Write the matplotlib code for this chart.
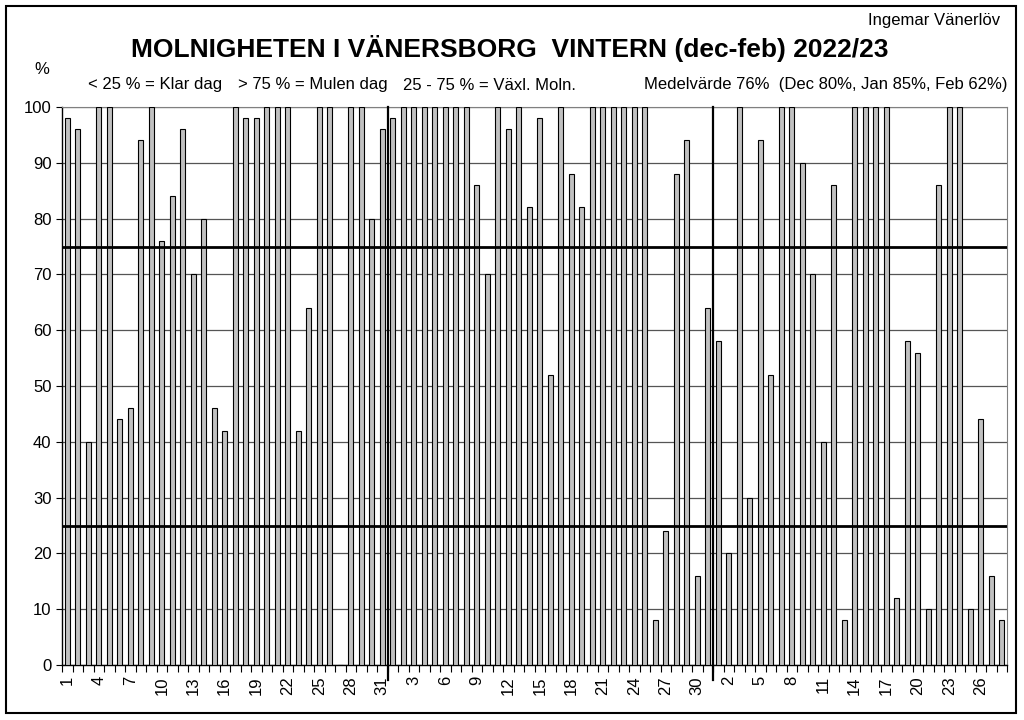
import matplotlib
matplotlib.use("Agg")
import matplotlib.pyplot as plt
from matplotlib.patches import Rectangle

plt.rcParams['font.family'] = ['Liberation Sans', 'DejaVu Sans']

dec = [98, 96, 40, 100, 100, 44, 46, 94, 100, 76, 84, 96, 70, 80, 46, 42,
       100, 98, 98, 100, 100, 100, 42, 64, 100, 100, 0, 100, 100, 80, 96]
jan = [98, 100, 100, 100, 100, 100, 100, 100, 86, 70, 100, 96, 100, 82, 98, 52,
       100, 88, 82, 100, 100, 100, 100, 100, 100, 8, 24, 88, 94, 16, 64]
feb = [58, 20, 100, 30, 94, 52, 100, 100, 90, 70, 40, 86, 8, 100, 100, 100,
       100, 12, 58, 56, 10, 86, 100, 100, 10, 44, 16, 8]

days = list(range(1, 32)) + list(range(1, 32)) + list(range(1, 29))
values = dec + jan + feb

title = "MOLNIGHETEN I VÄNERSBORG  VINTERN (dec-feb) 2022/23"
subtitle_parts = ["< 25 % = Klar dag", "> 75 % = Mulen dag", "25 - 75 % = Växl. Moln.",
                  "Medelvärde 76%  (Dec 80%, Jan 85%, Feb 62%)"]
author = "Ingemar Vänerlöv"

fig = plt.figure(figsize=(10.24, 7.2), dpi=100)
ax = fig.add_axes([62/1024, 1-665/720, (1007-62)/1024, (665-107)/720])

x = list(range(len(values)))
ax.bar(x, values, width=0.52, color='#c0c0c0', edgecolor='black', linewidth=0.8, zorder=3)

ax.set_xlim(-0.5, len(values) - 0.5)
ax.set_ylim(0, 100)
ax.set_yticks(range(0, 101, 10))
ax.yaxis.grid(True, color='#555555', linewidth=0.9, zorder=0)
ax.set_axisbelow(True)
for yv in (25, 75):
    ax.axhline(yv, color='black', linewidth=2.0, zorder=4)

# month separators
for b in (len(dec) - 0.5, len(dec) + len(jan) - 0.5):
    ax.plot([b, b], [-2.7, 100], color='black', linewidth=1.6, clip_on=False, zorder=5)

# ticks
ax.set_xticks([i for i in x if i % 3 == 0])
ax.set_xticklabels([str(days[i]) for i in x if i % 3 == 0], rotation=90, fontsize=12)
ax.set_xticks([i - 0.5 for i in range(len(values) + 1)], minor=True)
ax.tick_params(axis='x', which='major', length=0, pad=8)
ax.tick_params(axis='x', which='minor', length=5, width=0.8, direction='out')
ax.tick_params(axis='y', labelsize=12, length=4, width=0.8)

for s in ('top', 'right'):
    ax.spines[s].set_color('#808080')
ax.spines['left'].set_linewidth(1.0)
ax.spines['bottom'].set_linewidth(1.0)

fig.text(510/1024, 1-48/720, title, ha='center', va='center', fontsize=19, fontweight='bold')
for px, part in zip((88, 238, 403), subtitle_parts[:3]):
    fig.text(px/1024, 1-85/720, part, ha='left', va='center', fontsize=12)
fig.text(1007/1024, 1-85/720, subtitle_parts[3], ha='right', va='center', fontsize=12)
fig.text(1000/1024, 1-21/720, author, ha='right', va='center', fontsize=12)
fig.text(42/1024, 1-70/720, "%", ha='center', va='center', fontsize=12)

fig.patches.append(Rectangle((6/1024, 1-713/720), (1016-6)/1024, (713-6)/720,
                             transform=fig.transFigure, fill=False, edgecolor='black',
                             linewidth=1.5))

fig.savefig("out.png", dpi=100)
